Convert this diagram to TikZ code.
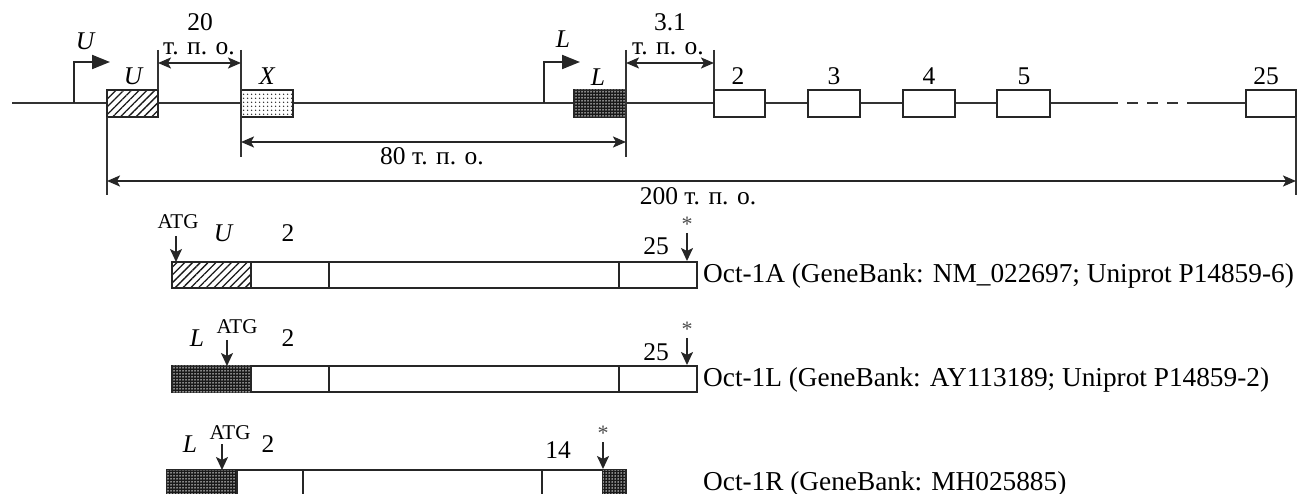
\documentclass[tikz,border=0pt]{standalone}
\usepackage{fontspec}
\setmainfont{Liberation Serif}
\usetikzlibrary{arrows.meta,patterns.meta}
\newcommand\szMain{\fontsize{25.5}{30}\selectfont}
\newcommand\szATG{\fontsize{21}{25}\selectfont}
\newcommand\szStar{\fontsize{22}{26}\selectfont}
\newcommand\szLab{\fontsize{27.3}{32}\selectfont}
\begin{document}
\begin{tikzpicture}[x=1pt,y=-1pt,
  gl/.style={line width=2pt, draw=black!80},
  exon/.style={draw=black!85, line width=2pt, fill=white, rectangle, inner sep=0pt, minimum height=27pt},
  seg/.style={draw=black!85, line width=2pt, fill=white, rectangle, inner sep=0pt, minimum height=26pt},
  hatch/.style={fill=none, pattern={Lines[angle=45,distance=5.5pt,line width=1.3pt]}, pattern color=black!90},
  sparse/.style={fill=none, pattern={Dots[radius=0.9pt,distance=4pt]}, pattern color=black!85},
  dense/.style={fill=black!90, postaction={pattern={Dots[radius=0.75pt,distance=3pt]}, pattern color=white}},
  prom/.style={line width=2pt, draw=black!85, -{Triangle[length=18pt,width=14pt]}},
  dim/.style={line width=2pt, draw=black!85, {Stealth[length=13pt,width=11pt,inset=3pt]}-{Stealth[length=13pt,width=11pt,inset=3pt]}},
  tick/.style={line width=2pt, draw=black!80},
  down/.style={line width=2pt, draw=black!85, -{Stealth[length=13pt,width=12pt,inset=3pt]}},
  txt/.style={inner sep=0pt, anchor=base, font=\szMain},
  itxt/.style={inner sep=0pt, anchor=base, font=\szMain\itshape},
  atg/.style={inner sep=0pt, anchor=base, font=\szATG},
  star/.style={inner sep=0pt, font=\szStar, text=black!70},
  lab/.style={inner sep=0pt, anchor=base west, font=\szLab}]
\useasboundingbox (0,0) rectangle (1299,494);

% ---------- gene (top) ----------
\coordinate (start) at (12,103.5);
\node[exon,hatch,minimum width=51pt] (Ub) at (132.5,103.5) {};
\node[exon,sparse,minimum width=52pt] (Xb) at (267,103.5) {};
\node[exon,dense,minimum width=52pt] (Lb) at (600,103.5) {};
\node[exon,minimum width=51pt] (e2) at (739.5,103.5) {};
\node[exon,minimum width=52pt] (e3) at (834,103.5) {};
\node[exon,minimum width=52pt] (e4) at (929,103.5) {};
\node[exon,minimum width=53pt] (e5) at (1023.5,103.5) {};
\node[exon,minimum width=50pt] (e25) at (1271,103.5) {};
\coordinate (d1) at (1107,103.5);
\coordinate (d2) at (1192,103.5);

\draw[gl] (start) -- (Ub.west);
\draw[gl] (Ub.east) -- (Xb.west);
\draw[gl] (Xb.east) -- (Lb.west);
\draw[gl] (Lb.east) -- (e2.west);
\draw[gl] (e2.east) -- (e3.west);
\draw[gl] (e3.east) -- (e4.west);
\draw[gl] (e4.east) -- (e5.west);
\draw[gl] (e5.east) -- (d1);
\draw[gl, dash pattern=on 11pt off 9pt] (d1) -- (d2);
\draw[gl] (d2) -- (e25.west);

% promoters
\coordinate (pU0) at (74,103.5);
\coordinate (pU1) at (74,62);
\coordinate (pU2) at (110,62);
\draw[prom] (pU0) -- (pU1) -- (pU2);
\coordinate (pL0) at (544,103.5);
\coordinate (pL1) at (544,62);
\coordinate (pL2) at (580,62);
\draw[prom] (pL0) -- (pL1) -- (pL2);
\node[itxt] (tUp) at (85,50) {U};
\node[itxt] (tLp) at (563,48) {L};

% box labels
\node[itxt] (tU) at (133,85) {U};
\node[itxt] (tX) at (267,85) {X};
\node[itxt] (tL) at (598,86) {L};
\node[txt] (t2) at (738,85) {2};
\node[txt] (t3) at (834,85) {3};
\node[txt] (t4) at (929,85) {4};
\node[txt] (t5) at (1024,85) {5};
\node[txt] (t25) at (1266,85) {25};

% ticks
\coordinate (k1a) at (158,50);  \coordinate (k1b) at (158,90);
\coordinate (k2a) at (241,50);  \coordinate (k2b) at (241,157);
\coordinate (k3a) at (626,50);  \coordinate (k3b) at (626,157);
\coordinate (k4a) at (714,50);  \coordinate (k4b) at (714,90);
\coordinate (k5a) at (107,117); \coordinate (k5b) at (107,195);
\coordinate (k6a) at (1296,117); \coordinate (k6b) at (1296,195);
\draw[tick] (k1a) -- (k1b);
\draw[tick] (k2a) -- (k2b);
\draw[tick] (k3a) -- (k3b);
\draw[tick] (k4a) -- (k4b);
\draw[tick] (k5a) -- (k5b);
\draw[tick] (k6a) -- (k6b);

% dimension arrows
\coordinate (a20l) at (158,63);  \coordinate (a20r) at (241,63);
\coordinate (a31l) at (626,63);  \coordinate (a31r) at (714,63);
\coordinate (a80l) at (241,142); \coordinate (a80r) at (626,142);
\coordinate (a200l) at (107,181); \coordinate (a200r) at (1296,181);
\draw[dim] (a20l) -- (a20r);
\draw[dim] (a31l) -- (a31r);
\draw[dim] (a80l) -- (a80r);
\draw[dim] (a200l) -- (a200r);
\node[txt] (n20) at (200,31) {20};
\node[txt] (n20u) at (199,55) {т. п. о.};
\node[txt] (n31) at (670,31) {3.1};
\node[txt] (n31u) at (668,55) {т. п. о.};
\node[txt] (n80) at (432,165) {80 т. п. о.};
\node[txt] (n200) at (698,205) {200 т. п. о.};

% ---------- Oct-1A ----------
\node[seg,hatch,minimum width=79pt] (a1) at (211.5,275) {};
\node[seg,minimum width=78pt] (a2) at (290,275) {};
\node[seg,minimum width=290pt] (a3) at (474,275) {};
\node[seg,minimum width=78pt] (a4) at (658,275) {};
\node[atg] (aATG) at (178,229) {ATG};
\node[itxt] (aU) at (223,242) {U};
\node[txt] (a2t) at (288,242) {2};
\node[txt] (a25t) at (656,255) {25};
\node[star] (aS) at (687,224) {*};
\coordinate (aA0) at (176,236); \coordinate (aA1) at (176,262);
\coordinate (aS0) at (687,233); \coordinate (aS1) at (687,261);
\draw[down] (aA0) -- (aA1);
\draw[down] (aS0) -- (aS1);
\node[lab] (aLab) at (703,283) {Oct-1A (GeneBank: NM\_022697; Uniprot P14859-6)};

% ---------- Oct-1L ----------
\node[seg,dense,minimum width=79pt] (b1) at (211.5,379) {};
\node[seg,minimum width=78pt] (b2) at (290,379) {};
\node[seg,minimum width=290pt] (b3) at (474,379) {};
\node[seg,minimum width=78pt] (b4) at (658,379) {};
\node[itxt] (bL) at (197,347) {L};
\node[atg] (bATG) at (237,334) {ATG};
\node[txt] (b2t) at (288,347) {2};
\node[txt] (b25t) at (656,360) {25};
\node[star] (bS) at (687,329) {*};
\coordinate (bA0) at (227,340); \coordinate (bA1) at (227,366);
\coordinate (bS0) at (687,338); \coordinate (bS1) at (687,365);
\draw[down] (bA0) -- (bA1);
\draw[down] (bS0) -- (bS1);
\node[lab] (bLab) at (703,387) {Oct-1L (GeneBank: AY113189; Uniprot P14859-2)};

% ---------- Oct-1R ----------
\node[seg,dense,minimum width=70pt] (c1) at (202,483) {};
\node[seg,minimum width=66pt] (c2) at (270,483) {};
\node[seg,minimum width=239pt] (c3) at (422.5,483) {};
\node[seg,minimum width=61pt] (c4) at (572.5,483) {};
\node[seg,dense,minimum width=23pt] (c5) at (614.5,483) {};
\node[itxt] (cL) at (190,452) {L};
\node[atg] (cATG) at (230,439) {ATG};
\node[txt] (c2t) at (268,452) {2};
\node[txt] (c14t) at (558,458) {14};
\node[star] (cS) at (603,433) {*};
\coordinate (cA0) at (222,444); \coordinate (cA1) at (222,470);
\coordinate (cS0) at (603,442); \coordinate (cS1) at (603,469);
\draw[down] (cA0) -- (cA1);
\draw[down] (cS0) -- (cS1);
\node[lab] (cLab) at (703,490) {Oct-1R (GeneBank: MH025885)};
\end{tikzpicture}
\end{document}
